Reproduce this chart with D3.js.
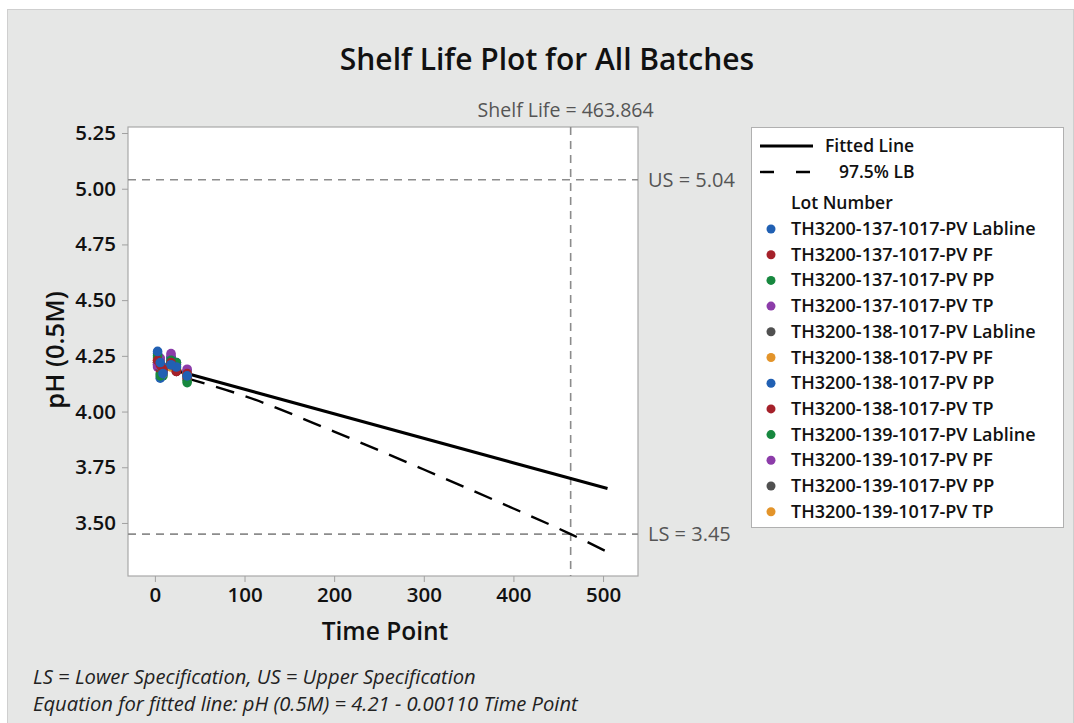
<!DOCTYPE html>
<html>
<head>
<meta charset="utf-8">
<script src="https://cdn.jsdelivr.net/npm/d3@7"></script>
<style>
  body { margin: 0; background: #fff; }
  svg { display: block; font-family: "Open Sans", "Noto Sans", sans-serif; }
</style>
</head>
<body>
<svg id="chart" width="1074" height="723"></svg>
<script>
// DATA
const lotNames = [
  "TH3200-137-1017-PV Labline", "TH3200-137-1017-PV PF", "TH3200-137-1017-PV PP",
  "TH3200-137-1017-PV TP", "TH3200-138-1017-PV Labline", "TH3200-138-1017-PV PF",
  "TH3200-138-1017-PV PP", "TH3200-138-1017-PV TP", "TH3200-139-1017-PV Labline",
  "TH3200-139-1017-PV PF", "TH3200-139-1017-PV PP", "TH3200-139-1017-PV TP"
];
const lotColors = ["#2160b3", "#a5212a", "#17883f", "#8c3ca9", "#505050", "#e3942a",
                   "#2160b3", "#a5212a", "#17883f", "#8c3ca9", "#505050", "#e3942a"];
const timePoints = [3, 6, 9, 18, 24, 36];
const lotValues = [
  [4.27, 4.22, 4.17, 4.21, 4.20, 4.16],
  [4.23, 4.21, 4.19, 4.22, 4.18, 4.17],
  [4.25, 4.16, 4.19, 4.23, 4.22, 4.13],
  [4.21, 4.24, 4.18, 4.26, 4.21, 4.19],
  [4.22, 4.20, 4.18, 4.21, 4.19, 4.16],
  [4.23, 4.22, 4.17, 4.20, 4.19, 4.17],
  [4.26, 4.15, 4.20, 4.24, 4.22, 4.18],
  [4.22, 4.19, 4.18, 4.24, 4.18, 4.15],
  [4.24, 4.17, 4.16, 4.22, 4.20, 4.14],
  [4.20, 4.23, 4.19, 4.25, 4.21, 4.18],
  [4.21, 4.20, 4.17, 4.21, 4.18, 4.16],
  [4.22, 4.21, 4.18, 4.22, 4.19, 4.17]
];
const fitTime = [0, 505];
const fitPH = [4.21, 3.6545];
const lbTime = [35, 100, 200, 300, 400, 463.864, 505];
const lbPH = [4.15, 4.07, 3.91, 3.74, 3.565, 3.45, 3.37];
const upperSpec = 5.04;
const lowerSpec = 3.45;
const shelfLife = 463.864;
const xTicks = [0, 100, 200, 300, 400, 500];
const yTicks = [3.50, 3.75, 4.00, 4.25, 4.50, 4.75, 5.00, 5.25];

// CANVAS SETUP
const svg = d3.select("#chart");
const W = 1074, H = 723;
const plot = { left: 128, top: 127, right: 638, bottom: 576 };

svg.append("rect").attr("x", 7.5).attr("y", 9.5).attr("width", W - 8).attr("height", H - 8)
  .attr("fill", "#e6e7e6").attr("stroke", "#cfcfcf");

const x = d3.scaleLinear().domain([-30, 539]).range([plot.left, plot.right]);
const y = d3.scaleLinear().domain([3.262, 5.277]).range([plot.bottom, plot.top]);

svg.append("rect")
  .attr("x", plot.left).attr("y", plot.top)
  .attr("width", plot.right - plot.left).attr("height", plot.bottom - plot.top)
  .attr("fill", "#fff").attr("stroke", "#a8a8a8").attr("stroke-width", 1.2);

// AXES
const xAxis = svg.append("g").attr("transform", `translate(0,${plot.bottom})`)
  .call(d3.axisBottom(x).tickValues(xTicks).tickSize(6).tickPadding(5).tickFormat(d3.format("d")));
const yAxis = svg.append("g").attr("transform", `translate(${plot.left},0)`)
  .call(d3.axisLeft(y).tickValues(yTicks).tickSize(6).tickPadding(6).tickFormat(d3.format(".2f")));
[xAxis, yAxis].forEach((g) => {
  g.select(".domain").remove();
  g.selectAll(".tick line").attr("stroke", "#a0a0a0");
  g.selectAll(".tick text").attr("font-size", 20.5).attr("fill", "#111")
    .attr("font-weight", 600).attr("font-family", "'Open Sans', sans-serif");
});

// REFERENCE LINES
const refStyle = (sel) => sel.attr("stroke", "#8c8c8c").attr("stroke-width", 1.6).attr("stroke-dasharray", "8,6");
svg.append("line").call(refStyle)
  .attr("x1", plot.left).attr("x2", plot.right).attr("y1", y(upperSpec)).attr("y2", y(upperSpec));
svg.append("line").call(refStyle)
  .attr("x1", plot.left).attr("x2", plot.right).attr("y1", y(lowerSpec)).attr("y2", y(lowerSpec));
svg.append("line").call(refStyle)
  .attr("x1", x(shelfLife)).attr("x2", x(shelfLife)).attr("y1", plot.top).attr("y2", plot.bottom);

// LINES
const line = d3.line().x((d) => x(d[0])).y((d) => y(d[1]));
svg.append("path").datum(fitTime.map((t, i) => [t, fitPH[i]]))
  .attr("d", line).attr("fill", "none").attr("stroke", "#000").attr("stroke-width", 3);
svg.append("path").datum(lbTime.map((t, i) => [t, lbPH[i]]))
  .attr("d", d3.line().curve(d3.curveMonotoneX).x((d) => x(d[0])).y((d) => y(d[1])))
  .attr("fill", "none").attr("stroke", "#000").attr("stroke-width", 2.4)
  .attr("stroke-dasharray", "19,12");

// POINTS (last lot drawn first so the first lots sit on top)
const points = [];
lotValues.forEach((vals, li) => vals.forEach((v, ti) => points.push({ lot: li, t: timePoints[ti], v })));
points.reverse();
svg.append("g").selectAll("circle").data(points).join("circle")
  .attr("cx", (d) => x(d.t)).attr("cy", (d) => y(d.v)).attr("r", 4.8)
  .attr("fill", (d) => lotColors[d.lot]);

// TEXTS
svg.append("text").attr("x", 547).attr("y", 70).attr("text-anchor", "middle")
  .attr("font-size", 30).attr("font-weight", 600).attr("fill", "#111")
  .text("Shelf Life Plot for All Batches");
svg.append("text").attr("x", x(shelfLife) - 5).attr("y", 117).attr("text-anchor", "middle")
  .attr("font-size", 19.5).attr("fill", "#555").text("Shelf Life = 463.864");
svg.append("text").attr("x", 648).attr("y", y(upperSpec) + 7)
  .attr("font-size", 20).attr("fill", "#555").text("US = 5.04");
svg.append("text").attr("x", 648).attr("y", y(lowerSpec) + 7)
  .attr("font-size", 20).attr("fill", "#555").text("LS = 3.45");
svg.append("text").attr("x", 385).attr("y", 640).attr("text-anchor", "middle")
  .attr("font-size", 24.5).attr("font-weight", 600).attr("fill", "#111").text("Time Point");
svg.append("text").attr("transform", "translate(64,350) rotate(-90)").attr("text-anchor", "middle")
  .attr("font-size", 25.5).attr("font-weight", 600).attr("fill", "#111").text("pH (0.5M)");
svg.append("text").attr("x", 33).attr("y", 684).attr("font-size", 20.2).attr("font-style", "italic")
  .attr("fill", "#222").text("LS = Lower Specification, US = Upper Specification");
svg.append("text").attr("x", 33).attr("y", 711).attr("font-size", 20.2).attr("font-style", "italic")
  .attr("fill", "#222").text("Equation for fitted line: pH (0.5M) = 4.21 - 0.00110 Time Point");

// LEGEND
const lg = svg.append("g");
lg.append("rect").attr("x", 751.5).attr("y", 127.5).attr("width", 312).attr("height", 400)
  .attr("fill", "#fff").attr("stroke", "#b0b0b0");
lg.append("line").attr("x1", 760).attr("x2", 813).attr("y1", 146).attr("y2", 146)
  .attr("stroke", "#000").attr("stroke-width", 3);
lg.append("text").attr("x", 825).attr("y", 152).attr("font-size", 17.5).attr("font-weight", 600)
  .attr("fill", "#111").text("Fitted Line");
lg.append("line").attr("x1", 760).attr("x2", 810).attr("y1", 172).attr("y2", 172)
  .attr("stroke", "#000").attr("stroke-width", 2.4).attr("stroke-dasharray", "14,22");
lg.append("text").attr("x", 839).attr("y", 178).attr("font-size", 17.5).attr("font-weight", 600)
  .attr("fill", "#111").text("97.5% LB");
lg.append("text").attr("x", 791).attr("y", 209).attr("font-size", 17.5).attr("font-weight", 600)
  .attr("fill", "#111").text("Lot Number");
const items = lg.selectAll("g.item").data(lotNames).join("g").attr("class", "item")
  .attr("transform", (d, i) => `translate(0,${227 + i * 25.7})`);
items.append("circle").attr("cx", 771).attr("cy", 2).attr("r", 4.5).attr("fill", (d, i) => lotColors[i]);
items.append("text").attr("x", 791).attr("y", 8).attr("font-size", 18).attr("font-weight", 600)
  .attr("fill", "#111").text((d) => d);
</script>
</body>
</html>
